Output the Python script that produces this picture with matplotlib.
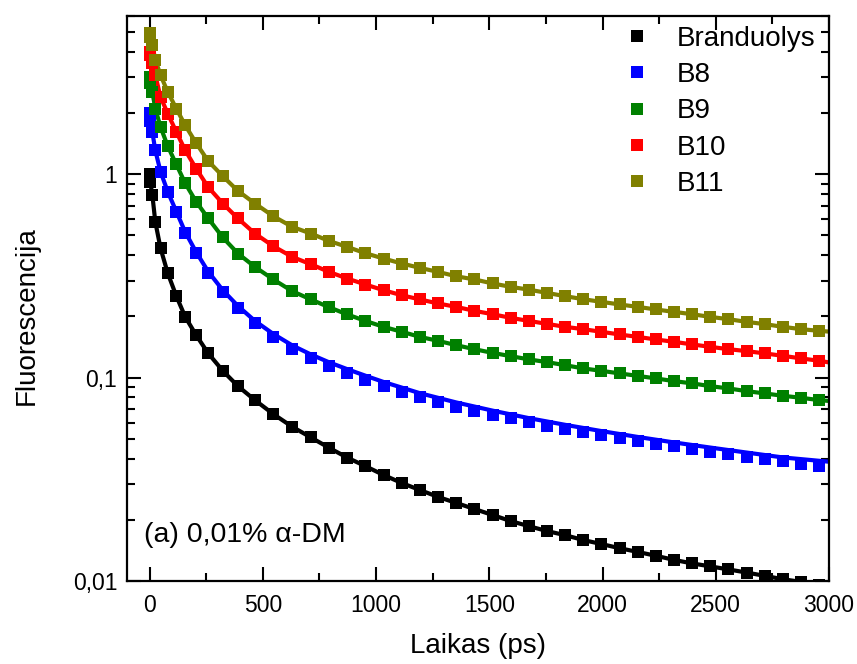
import matplotlib
matplotlib.use("Agg")
import matplotlib.pyplot as plt
from matplotlib.ticker import FixedLocator, FixedFormatter, LogLocator, NullFormatter, MultipleLocator

plt.rcParams['font.family'] = ['Liberation Sans', 'DejaVu Sans']

# time axis of the sampled points (ps)
t = [0, 3, 12, 25, 48, 80, 118, 157, 205, 258, 323, 390, 465, 546, 630, 712, 792,
     873, 953, 1033, 1114, 1194, 1274, 1354, 1434, 1515, 1595, 1675, 1755, 1835,
     1915, 1995, 2075, 2155, 2236, 2316, 2396, 2476, 2556, 2637, 2717, 2797, 2877, 2957]

branduolys = [1.0, 0.913, 0.789, 0.583, 0.433, 0.326, 0.2515, 0.199, 0.162, 0.132, 0.108,
              0.0908, 0.0775, 0.0662, 0.0573, 0.0508, 0.0452, 0.0404, 0.0367, 0.0332,
              0.0303, 0.0280, 0.0259, 0.0242, 0.0226, 0.0211, 0.0197, 0.0186, 0.0176,
              0.0168, 0.0159, 0.0152, 0.0145, 0.0139, 0.0133, 0.0127, 0.0122, 0.0118,
              0.0114, 0.0110, 0.0106, 0.0102, 0.0099, 0.0096]
b8 = [2.0, 1.82, 1.61, 1.31, 1.026, 0.818, 0.653, 0.515, 0.41, 0.327, 0.264, 0.22, 0.185,
      0.159, 0.139, 0.125, 0.1144, 0.1057, 0.0977, 0.0910, 0.0851, 0.0801, 0.0759, 0.0721,
      0.0688, 0.0657, 0.0630, 0.0604, 0.0581, 0.0560, 0.0540, 0.0522, 0.0504, 0.0488,
      0.0473, 0.0459, 0.0445, 0.0432, 0.0420, 0.0409, 0.0398, 0.0387, 0.0377, 0.0367]
b9 = [3.01, 2.8, 2.54, 2.10, 1.71, 1.373, 1.117, 0.903, 0.734, 0.608, 0.489, 0.4076, 0.3503,
      0.304, 0.266, 0.2423, 0.222, 0.2044, 0.190, 0.1777, 0.168, 0.1586, 0.1516, 0.1444,
      0.138, 0.1323, 0.1275, 0.1229, 0.1192, 0.1151, 0.111, 0.108, 0.1049, 0.102, 0.0991,
      0.0961, 0.0937, 0.0908, 0.0885, 0.0858, 0.0836, 0.0814, 0.0796, 0.0775]
b10 = [3.99, 3.85, 3.51, 3.07, 2.40, 1.987, 1.614, 1.312, 1.067, 0.866, 0.718, 0.606, 0.511,
       0.443, 0.392, 0.361, 0.331, 0.307, 0.287, 0.269, 0.254, 0.2423, 0.2315, 0.2228,
       0.213, 0.205, 0.1967, 0.190, 0.1838, 0.1777, 0.1731, 0.168, 0.163, 0.1586, 0.154,
       0.150, 0.1456, 0.1417, 0.138, 0.135, 0.1315, 0.128, 0.1243, 0.121]
b11 = [4.95, 4.75, 4.31, 3.66, 3.07, 2.54, 2.10, 1.741, 1.425, 1.163, 0.978, 0.828, 0.718,
       0.622, 0.551, 0.511, 0.470, 0.439, 0.409, 0.385, 0.364, 0.3464, 0.331, 0.315, 0.304,
       0.2904, 0.2794, 0.2707, 0.261, 0.2515, 0.243, 0.2358, 0.229, 0.2228, 0.2163, 0.2105,
       0.205, 0.1989, 0.1938, 0.188, 0.1832, 0.1777, 0.1731, 0.1698]

# fit-curve end values at t = 3000 ps
t_end = 3000
fit_end = {'Branduolys': 0.0096, 'B9': 0.0768, 'B10': 0.1188, 'B11': 0.1684}

# B8 fit curve (runs slightly above its points in the tail)
b8_fit_t = [0, 12, 25, 48, 80, 118, 157, 205, 258, 323, 390, 465, 546, 630, 712, 792, 873,
            953, 1033, 1194, 1354, 1515, 1675, 1835, 1995, 2155, 2316, 2476, 2637, 2797, 3000]
b8_fit = [2.0, 1.61, 1.31, 1.03, 0.82, 0.655, 0.52, 0.415, 0.333, 0.269, 0.225, 0.19,
          0.164, 0.144, 0.130, 0.119, 0.110, 0.1022, 0.0952, 0.0838, 0.0755, 0.0688,
          0.0632, 0.0586, 0.0546, 0.0511, 0.0480, 0.0453, 0.0428, 0.0405, 0.0386]

labels = ['Branduolys', 'B8', 'B9', 'B10', 'B11']
colors = ['#000000', '#0000FF', '#008000', '#FF0000', '#808000']
series = [branduolys, b8, b9, b10, b11]

fig = plt.figure(figsize=(8.57, 6.64), dpi=100)
ax = fig.add_axes([0.1482, 0.125, 0.8191, 0.8509])

for lab, col, vals in zip(labels, colors, series):
    if lab == 'B8':
        lx, ly = b8_fit_t, b8_fit
    else:
        lx, ly = t + [t_end], vals + [fit_end[lab]]
    ax.plot(lx, ly, '-', color=col, lw=3.0, zorder=2)
for lab, col, vals in zip(labels, colors, series):
    ax.plot(t, vals, 's', color=col, ms=8.5, mew=0, zorder=3, label=lab)

ax.set_yscale('log')
ax.set_xlim(-100, 3000)
ax.set_ylim(0.01, 6.0)

ax.xaxis.set_major_locator(MultipleLocator(500))
ax.xaxis.set_minor_locator(MultipleLocator(250))
ax.yaxis.set_major_locator(FixedLocator([0.01, 0.1, 1]))
ax.yaxis.set_major_formatter(FixedFormatter(['0,01', '0,1', '1']))
ax.yaxis.set_minor_locator(LogLocator(base=10, subs=range(2, 10)))
ax.yaxis.set_minor_formatter(NullFormatter())

for s in ax.spines.values():
    s.set_linewidth(1.6)
ax.tick_params(which='both', direction='in', top=True, right=True, width=1.5)
ax.tick_params(which='major', length=10)
ax.tick_params(which='minor', length=6)
ax.tick_params(axis='y', which='major', labelsize=16.5, pad=7)
ax.tick_params(axis='x', which='major', labelsize=16.5, pad=9)

ax.set_xlabel('Laikas (ps)', fontsize=20)
ax.xaxis.set_label_coords(0.5, -0.092)
ax.set_ylabel('Fluorescencija', fontsize=20)
ax.yaxis.set_label_coords(-0.124, 0.47)

ax.text(0.024, 0.082, '(a) 0,01% \u03b1-DM', transform=ax.transAxes, fontsize=20.5,
        ha='left', va='center')

leg = ax.legend(loc='upper right', bbox_to_anchor=(1.0 - 4 / 702, 1.0), frameon=False,
                fontsize=20, handlelength=1.0, handletextpad=0.93, labelspacing=0.37,
                borderpad=0.35, borderaxespad=0.0, markerscale=1.0)
for h in leg.legend_handles:
    h.set_markersize(8.5)

fig.savefig('out.png', dpi=100)
